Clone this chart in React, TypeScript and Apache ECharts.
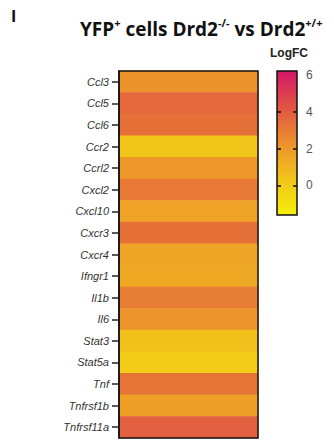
import React, { useEffect, useRef } from "react";
import * as echarts from "echarts";

const genes = [
  "Ccl3", "Ccl5", "Ccl6", "Ccr2", "Ccrl2", "Cxcl2", "Cxcl10", "Cxcr3", "Cxcr4",
  "Ifngr1", "Il1b", "Il6", "Stat3", "Stat5a", "Tnf", "Tnfrsf1b", "Tnfrsf11a",
];
const logFC = [2.2, 3.6, 3.3, 0.3, 2.0, 3.0, 1.6, 3.3, 1.5, 1.4, 2.9, 2.1, 0.5, 0.0, 3.2, 1.7, 3.9];
const colorbarTicks = [0, 2, 4];
const colorbarLabels = [0, 2, 4, 6];
const scaleMin = -1.6;
const scaleMax = 6.2;
const scaleColors = ["#f6ee08", "#f2c41a", "#ec902c", "#e05444", "#d4166a"];

export default function App() {
  const ref = useRef<HTMLDivElement>(null);
  useEffect(() => {
    const chart = echarts.init(ref.current!, null, { renderer: "svg" });
    const stops = scaleColors
      .slice()
      .reverse()
      .map((c, i) => ({ offset: i / (scaleColors.length - 1), color: c }));
    const option: any = {
      animation: false,
      backgroundColor: "#ffffff",
      title: {
        left: 75,
        top: 12,
        text: "{a|YFP}{s|+}{a| cells Drd2}{s|-/-}{a| vs Drd2}{s|+/+}",
        textStyle: {
          rich: {
            a: { fontFamily: "Open Sans", fontWeight: "bold", fontSize: 19, lineHeight: 24, color: "#111" },
            s: { fontFamily: "Open Sans", fontWeight: "bold", fontSize: 11, lineHeight: 14, verticalAlign: "top", color: "#111" },
          },
        },
      },
      graphic: [
        { type: "text", left: 11, top: 8, style: { text: "I", font: "bold 16px 'Open Sans'", fill: "#111" } },
        { type: "text", x: 289, y: 53, style: { text: "LogFC", font: "bold 12px 'Liberation Sans'", fill: "#222", align: "center", verticalAlign: "middle" } },
      ],
      grid: [
        { left: 119, top: 71, width: 139, height: 367, show: true, borderColor: "#111", borderWidth: 1.5, z: 10, backgroundColor: "transparent" },
        { left: 277, top: 71, width: 20, height: 144 },
      ],
      xAxis: [
        { gridIndex: 0, type: "category", data: [""], show: false },
        { gridIndex: 1, type: "value", min: 0, max: 1, show: false },
      ],
      yAxis: [
        {
          gridIndex: 0,
          type: "category",
          data: genes,
          inverse: true,
          axisLine: { show: true, lineStyle: { color: "#111", width: 1.5 } },
          axisTick: { show: true, length: 7, alignWithLabel: true, lineStyle: { color: "#222", width: 1.5 } },
          axisLabel: { fontFamily: "Liberation Sans", fontStyle: "italic", fontSize: 11, color: "#333", margin: 10 },
          z: 10,
        },
        {
          gridIndex: 1,
          type: "value",
          min: scaleMin,
          max: scaleMax,
          position: "left",
          splitLine: { show: false },
          axisLine: { show: false },
          axisLabel: { show: false },
          axisTick: { show: true, inside: true, length: 4, customValues: colorbarTicks, lineStyle: { color: "#111", width: 1.5 } },
          z: 10,
        },
        {
          gridIndex: 1,
          type: "value",
          min: scaleMin,
          max: scaleMax,
          position: "right",
          splitLine: { show: false },
          axisLine: { show: false },
          axisLabel: { show: true, customValues: colorbarLabels, fontFamily: "Liberation Sans", fontSize: 12, color: "#555", margin: 9 },
          axisTick: { show: true, inside: true, length: 4, customValues: colorbarTicks, lineStyle: { color: "#111", width: 1.5 } },
          z: 10,
        },
      ],
      visualMap: {
        show: false,
        min: scaleMin,
        max: scaleMax,
        seriesIndex: 0,
        dimension: 2,
        inRange: { color: scaleColors },
      },
      series: [
        {
          type: "heatmap",
          xAxisIndex: 0,
          yAxisIndex: 0,
          data: genes.map((g, i) => [0, i, logFC[i]]),
          itemStyle: { borderWidth: 0 },
          emphasis: { disabled: true },
        },
        {
          type: "custom",
          xAxisIndex: 1,
          yAxisIndex: 2,
          data: [[0, 1, scaleMin, scaleMax]],
          renderItem: (params: any, api: any) => {
            const tl = api.coord([api.value(0), api.value(3)]);
            const br = api.coord([api.value(1), api.value(2)]);
            return {
              type: "rect",
              shape: { x: tl[0], y: tl[1], width: br[0] - tl[0], height: br[1] - tl[1] },
              style: {
                fill: new echarts.graphic.LinearGradient(0, 0, 0, 1, stops),
                stroke: "#111",
                lineWidth: 1.5,
              },
            };
          },
        },
      ],
    };
    chart.setOption(option);
    return () => chart.dispose();
  }, []);
  return <div ref={ref} style={{ position: "fixed", left: 0, top: 0, width: 334, height: 443 }} />;
}
